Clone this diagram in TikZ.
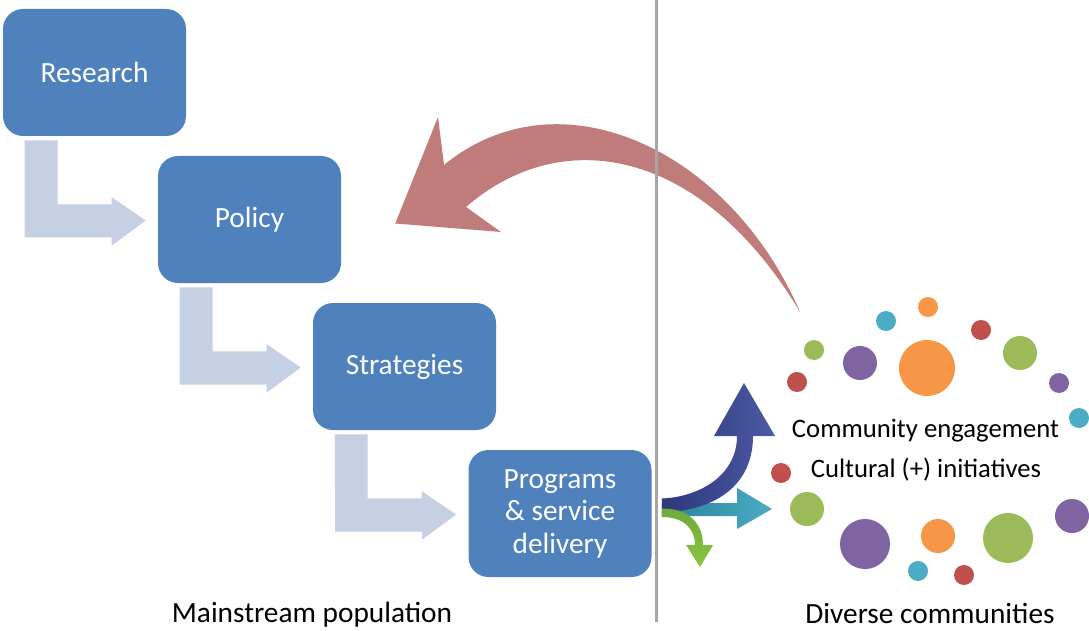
\documentclass[tikz,border=0pt]{standalone}
\usepackage{fontspec}
\setmainfont{Carlito}
\usetikzlibrary{calc}

\definecolor{boxblue}{RGB}{79,129,189}
\definecolor{flowgrey}{RGB}{198,208,228}
\definecolor{backred}{RGB}{192,124,122}
\definecolor{divgrey}{RGB}{166,166,166}
\definecolor{navyL}{RGB}{44,56,124}
\definecolor{navyR}{RGB}{76,90,164}
\definecolor{tealL}{RGB}{40,130,150}
\definecolor{tealR}{RGB}{75,172,198}
\definecolor{leafL}{RGB}{110,170,60}
\definecolor{leafR}{RGB}{140,196,64}
\definecolor{dotorange}{RGB}{247,150,70}
\definecolor{dotteal}{RGB}{75,172,198}
\definecolor{dotred}{RGB}{192,80,77}
\definecolor{dotgreen}{RGB}{155,187,89}
\definecolor{dotpurple}{RGB}{128,100,162}

\begin{document}
\begin{tikzpicture}[x=0.75pt,y=0.75pt,yscale=-1,xscale=1,
  stepbox/.style={fill=boxblue, rounded corners=15pt, minimum width=137.25pt,
    minimum height=95.25pt, inner sep=0pt, text=white, align=center,
    font=\fontsize{22}{24.4}\selectfont},
  flowarrow/.style={fill=flowgrey},
  commtext/.style={anchor=base, inner sep=0pt, font=\fontsize{20}{24}\selectfont},
  capt/.style={anchor=base, inner sep=0pt, font=\fontsize{22}{26}\selectfont}]
\useasboundingbox (0,0) rectangle (1089,631);

% Step boxes
\node[stepbox] (research) at (94.5,72.5) {Research};
\node[stepbox] (policy) at (249.5,219.5) {Policy};
\node[stepbox] (strategies) at (404.5,366.5) {Strategies};
\node[stepbox] (programs) at (560,513.5) {Programs\\\& service\\delivery};

%Shape: bent arrows between the steps
\foreach \a/\b in {research/policy, policy/strategies, strategies/programs}
  \fill[flowarrow] ($(\a.south west)+(22,4)$) -- ++(33,0) -- ++(0,64) -- ++(54,0)
    -- ++(0,-7) -- ($(\b.west)+(-12,1)$) -- ++(-34,25) -- ++(0,-8) -- ++(-87,0) -- cycle;

%Shape: curved arrow back to policy
\coordinate (redtail) at (800,312);
\coordinate (redtip) at ($(policy.east)+(54,4)$);
\fill[backred] (redtail) .. controls (730,150) and (560,70) .. (444,165) -- (438,117)
  -- (redtip) -- (501,232) -- (466,207) .. controls (560,125) and (700,145) .. (redtail) -- cycle;

%Straight Lines: divider
\draw[divgrey, line width=2.25pt] (656,0) -- (656,622);

%Shape: arrows out of programs
\coordinate (fan) at ($(programs.east)+(10,-5)$);
\shade[left color=tealL, right color=tealR] ($(fan)+(0,-5)$) -- (737,503) -- (737,488)
  -- (772,509) -- (737,529) -- (737,516) -- (662,516) -- cycle;
\shade[left color=navyL, right color=navyR] ($(fan)+(0,-10)$) .. controls (700,497) and (737,475) .. (737,436)
  -- (714,436) -- (744,383) -- (775,436) -- (753,436) .. controls (753,492) and (705,512) .. (662,512) -- cycle;
\shade[top color=leafL, bottom color=leafR] (fan) .. controls (690,508) and (703,525) .. (703,545)
  -- (713,545) -- (700,567) -- (686,545) -- (695,545) .. controls (695,530) and (685,517) .. (662,517) -- cycle;

%Shape: community dots
\foreach \x/\y/\r/\c in {928/307/10/dotorange, 886/321/10/dotteal, 981/330/10/dotred,
    814/350/10/dotgreen, 860/363/17/dotpurple, 927/368/28/dotorange, 1020/353/17/dotgreen,
    797/382/10/dotred, 1059/383/10/dotpurple, 1079/418/10/dotteal, 781/473/10/dotred,
    807/509/17/dotgreen, 865/544/25/dotpurple, 938/536/17/dotorange, 1008/538/25/dotgreen,
    1072/516/17/dotpurple, 918/571/10/dotteal, 964/575/10/dotred}
  \fill[\c] (\x,\y) circle[radius=\r];

% Text Node
\node[commtext] (engage) at (925.5,437) {Community engagement};
% Text Node
\node[commtext] (cultural) at (926,477) {Cultural (+) initiatives};
% Text Node
\node[capt] (mainstream) at (312,622) {Mainstream population};
% Text Node
\node[capt] (diverse) at (930,623) {Diverse communities};

\end{tikzpicture}
\end{document}
